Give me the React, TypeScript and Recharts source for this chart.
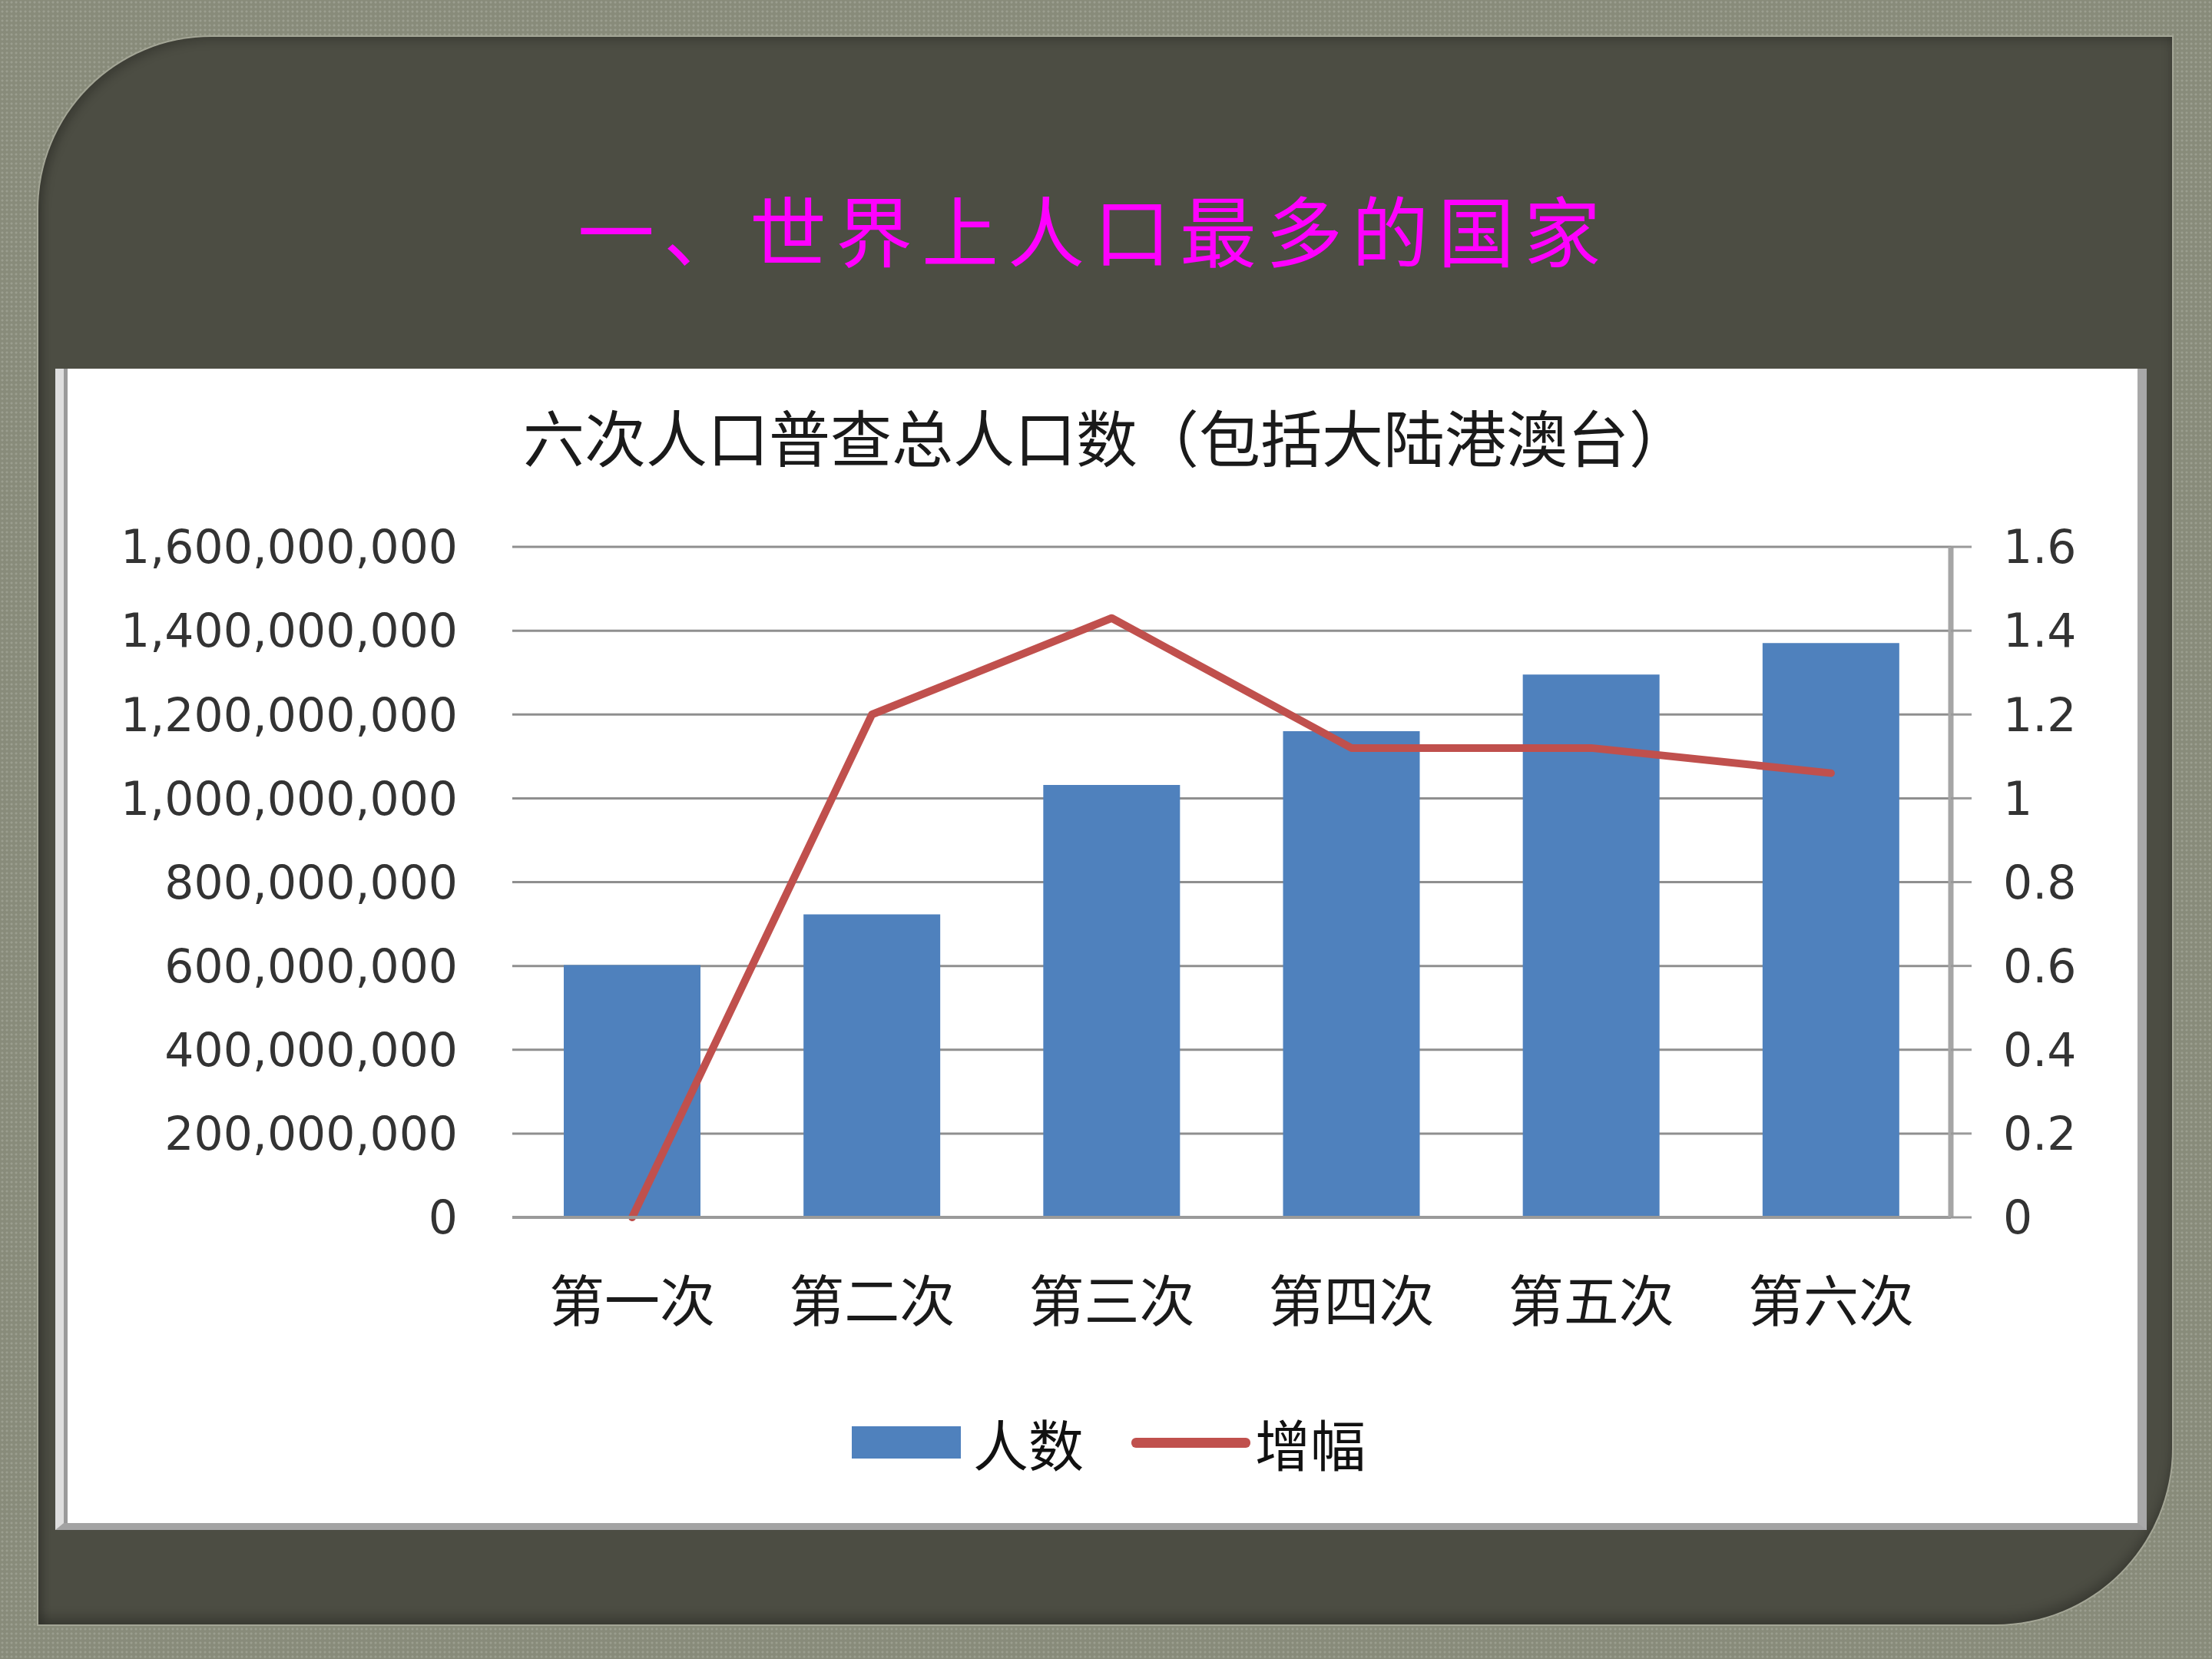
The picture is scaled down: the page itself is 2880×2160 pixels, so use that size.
import React from 'react';
import { ComposedChart, Bar, Line, XAxis, YAxis, CartesianGrid, Legend } from 'recharts';

// 六次人口普查（含港澳台）
const censuses = ['第一次', '第二次', '第三次', '第四次', '第五次', '第六次'];
const population = [601938035, 723070269, 1031882511, 1160017381, 1295330000, 1370536875];
const growth = [0, 1.2, 1.43, 1.12, 1.12, 1.06];

const populationTicks = [0, 200000000, 400000000, 600000000, 800000000, 1000000000, 1200000000, 1400000000, 1600000000];
const growthTicks = [0, 0.2, 0.4, 0.6, 0.8, 1, 1.2, 1.4, 1.6];

const seriesNames = { population: '人数', growth: '增幅' };
const slideTitle = '一、世界上人口最多的国家';
const chartTitle = '六次人口普查总人口数（包括大陆港澳台）';

const data = censuses.map((name, i) => ({
  name,
  population: population[i],
  growth: growth[i],
}));

const CJK = '"Noto Sans CJK SC", "Noto Sans", sans-serif';
const LATIN = '"DejaVu Sans", Verdana, sans-serif';

const BLUE = '#4f81bd';
const RED = '#c0504d';

const renderLegend = (props: any) => {
  const payload = props.payload || [];
  return (
    <div style={{ display: 'flex', justifyContent: 'center', alignItems: 'center', height: 100, marginLeft: 7 }}>
      {payload.map((entry: any, i: number) => (
        <div key={i} style={{ display: 'flex', alignItems: 'center', marginLeft: i ? 62 : 0 }}>
          {entry.type === 'line' ? (
            <div style={{ width: 155, height: 13, background: entry.color, borderRadius: 6, marginRight: 6 }} />
          ) : (
            <div style={{ width: 142, height: 42, background: entry.color, marginRight: 16 }} />
          )}
          <span style={{ fontSize: 72, lineHeight: 1, color: '#111', fontFamily: CJK }}>{entry.value}</span>
        </div>
      ))}
    </div>
  );
};

export default function App() {
  return (
    <div
      style={{
        position: 'absolute',
        left: 0,
        top: 0,
        width: 2880,
        height: 2160,
        overflow: 'hidden',
        backgroundColor: '#888b7a',
        backgroundImage: 'radial-gradient(rgba(255,255,255,0.16) 1.3px, transparent 1.8px)',
        backgroundSize: '6px 6px',
        fontFamily: CJK,
      }}
    >
      {/* slide panel */}
      <div
        style={{
          position: 'absolute',
          left: 50,
          top: 48,
          width: 2778,
          height: 2067,
          background: '#4c4d43',
          borderTopLeftRadius: 225,
          borderBottomRightRadius: 230,
          boxShadow: '0 0 0 2px #a4a696, inset 0 -10px 14px rgba(0,0,0,0.22), inset 6px 6px 12px rgba(0,0,0,0.18)',
        }}
      />
      <div
        style={{
          position: 'absolute',
          left: 752,
          top: 247,
          fontSize: 100,
          lineHeight: 1,
          letterSpacing: 12,
          color: '#ff00ff',
          whiteSpace: 'nowrap',
          fontFamily: CJK,
        }}
      >
        {slideTitle}
      </div>

      {/* chart frame */}
      <div
        style={{
          position: 'absolute',
          left: 72,
          top: 480,
          width: 2723,
          height: 1512,
          boxSizing: 'border-box',
          background: '#ffffff',
          borderLeft: '11px solid #dedede',
          borderRight: '12px solid #a8a8a8',
          borderBottom: '9px solid #a3a3a3',
        }}
      >
        <div style={{ position: 'absolute', left: 0, top: 0, width: 5, height: '100%', background: '#9a9a9a' }} />
      </div>

      <div
        style={{
          position: 'absolute',
          left: 681,
          top: 526,
          fontSize: 80,
          lineHeight: 1,
          color: '#1a1a1a',
          whiteSpace: 'nowrap',
          fontFamily: CJK,
        }}
      >
        {chartTitle}
      </div>

      <div style={{ position: 'absolute', left: 0, top: 0 }}>
        <ComposedChart
          width={2880}
          height={2160}
          data={data}
          margin={{ top: 712, left: 72, right: 85, bottom: 168 }}
        >
          <CartesianGrid yAxisId="left" vertical={false} stroke="#8f8f8f" strokeWidth={3} />
          <XAxis
            dataKey="name"
            height={407}
            tickLine={false}
            tickSize={0}
            tickMargin={84}
            axisLine={{ stroke: '#9a9a9a', strokeWidth: 4 }}
            tick={{ fontSize: 72, fill: '#1a1a1a', fontFamily: CJK }}
            interval={0}
          />
          <YAxis
            yAxisId="left"
            orientation="left"
            width={595}
            domain={[0, 1600000000]}
            ticks={populationTicks}
            tickFormatter={(v: number) => v.toLocaleString('en-US')}
            axisLine={false}
            tickLine={false}
            tickSize={0}
            tickMargin={71}
            tick={{ fontSize: 60, fill: '#333333', fontFamily: LATIN }}
            interval={0}
          />
          <YAxis
            yAxisId="right"
            orientation="right"
            width={255}
            domain={[0, 1.6]}
            ticks={growthTicks}
            tickFormatter={(v: number) => String(v)}
            axisLine={{ stroke: '#a6a6a6', strokeWidth: 7 }}
            tickLine={{ stroke: '#9a9a9a', strokeWidth: 3 }}
            tickSize={27}
            tickMargin={41}
            tick={{ fontSize: 60, fill: '#333333', fontFamily: LATIN }}
            interval={0}
          />
          <Bar
            yAxisId="left"
            dataKey="population"
            name={seriesNames.population}
            fill={BLUE}
            barSize={178}
            isAnimationActive={false}
          />
          <Line
            yAxisId="right"
            type="linear"
            dataKey="growth"
            name={seriesNames.growth}
            stroke={RED}
            strokeWidth={10}
            strokeLinejoin="round"
            strokeLinecap="round"
            dot={false}
            activeDot={false}
            isAnimationActive={false}
          />
          <Legend
            layout="horizontal"
            verticalAlign="middle"
            align="center"
            content={renderLegend}
            wrapperStyle={{ left: 0, top: 1828, width: 2880 }}
          />
        </ComposedChart>
      </div>
    </div>
  );
}
